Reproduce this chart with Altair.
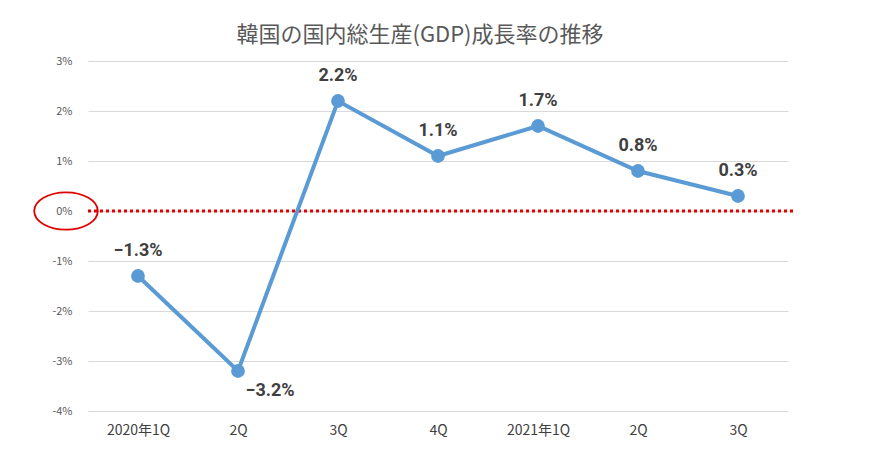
import altair as alt
import pandas as pd

cats = ["2020年1Q", "2Q", "3Q", "4Q", "2021年1Q", "2Q ", "3Q "]
vals = [-1.3, -3.2, 2.2, 1.1, 1.7, 0.8, 0.3]
labels = ["−1.3%", "−3.2%", "2.2%", "1.1%", "1.7%", "0.8%", "0.3%"]
below = [False, True, False, False, False, False, False]

df = pd.DataFrame({"c": cats, "v": vals, "l": labels, "b": below})
font = "Noto Sans CJK JP"

x = alt.X("c:N", sort=cats, title=None,
          axis=alt.Axis(labelAngle=0, domain=False, ticks=False, grid=False,
                        labelFontSize=14, labelColor="#404040", labelPadding=12, labelFont=font))
y = alt.Y("v:Q", scale=alt.Scale(domain=[-4, 3]), title=None,
          axis=alt.Axis(values=list(range(-4, 4)), labelExpr="datum.value + '%'",
                        domain=False, ticks=False, gridColor="#d9d9d9", labelFontSize=11,
                        labelColor="#595959", labelPadding=16, labelFont=font))

base = alt.Chart(df)
line = base.mark_line(color="#5b9bd5", strokeWidth=4).encode(x=x, y=y)
pts = base.mark_circle(color="#5b9bd5", size=190, opacity=1).encode(x=x, y=y)
txt_up = base.transform_filter("!datum.b").mark_text(
    dy=-25, fontSize=18, fontWeight="bold", color="#404040", font="Roboto").encode(x=x, y=y, text="l:N")
txt_dn = base.transform_filter("datum.b").mark_text(
    dy=20, dx=32, fontSize=18, fontWeight="bold", color="#404040", font="Roboto").encode(x=x, y=y, text="l:N")
zero = alt.Chart(pd.DataFrame({"z": [0]})).mark_rule(
    color="#e00000", strokeWidth=3, strokeDash=[3, 3]).encode(
    y=alt.Y("z:Q", scale=alt.Scale(domain=[-4, 3])), x=alt.value(0), x2=alt.value(708))
ell = alt.Chart(pd.DataFrame({"z": [0]})).mark_point(
    shape="M-1.7,0A1.7,1,0,1,0,1.7,0A1.7,1,0,1,0,-1.7,0", size=1400,
    color="#e00000", strokeWidth=1.8, filled=False, opacity=1).encode(
    y=alt.Y("z:Q", scale=alt.Scale(domain=[-4, 3])), x=alt.value(-22))

chart = alt.layer(zero, line, pts, txt_up, txt_dn, ell).properties(
    width=700, height=350,
    title=alt.TitleParams("韓国の国内総生産(GDP)成長率の推移", fontSize=22, font=font,
                          fontWeight="normal", color="#595959", dx=-18, offset=8),
    autosize=alt.AutoSizeParams(type="none"),
    padding={"left": 80, "top": 53, "right": 99, "bottom": 45},
).configure(background="white", view=alt.ViewConfig(stroke=None))

chart.save("out.html", embed_options={"renderer": "svg", "actions": False})
